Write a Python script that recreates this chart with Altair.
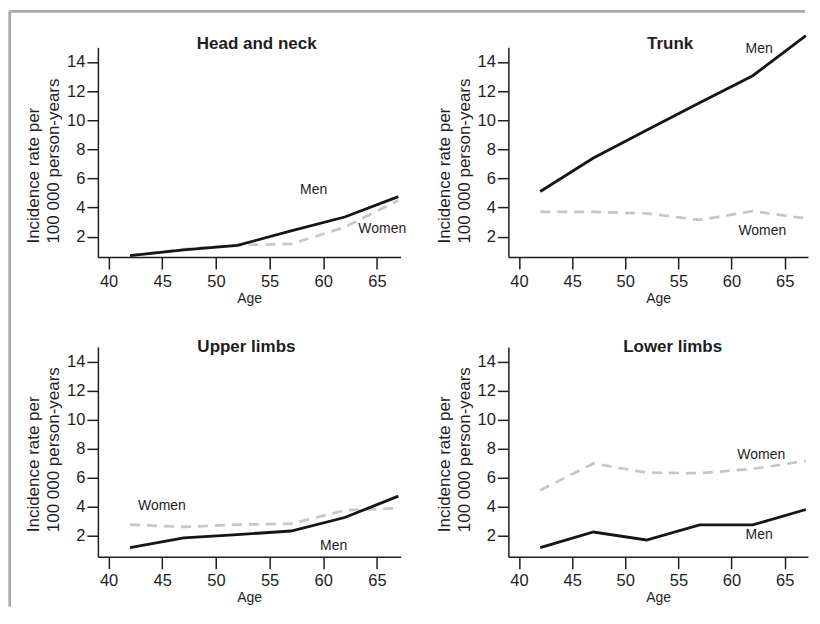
import altair as alt
import pandas as pd

FONT = "Liberation Sans"
INK = "#1e1e1e"

ages = [42, 47, 52, 57, 62, 67]
x_ticks = [40, 45, 50, 55, 60, 65]
y_ticks = [2, 4, 6, 8, 10, 12, 14]

titles = ["Head and neck", "Trunk", "Upper limbs", "Lower limbs"]

head_men = [0.7, 1.1, 1.4, 2.4, 3.35, 4.75]
head_women = [0.7, 1.15, 1.42, 1.5, 2.65, 4.5]
trunk_men = [5.1, 7.4, 9.3, 11.2, 13.05, 15.8]
trunk_women = [3.7, 3.7, 3.6, 3.15, 3.75, 3.25]
upper_men = [1.18, 1.84, 2.07, 2.32, 3.25, 4.72]
upper_women = [2.76, 2.6, 2.76, 2.82, 3.74, 3.9]
lower_men = [1.17, 2.25, 1.7, 2.74, 2.74, 3.8]
lower_women = [5.13, 6.97, 6.34, 6.3, 6.6, 7.15]

# inline label positions (age, rate)
label_text = ["Men", "Women"]
head_label_age = [59.1, 65.5]
head_label_rate = [5.2, 2.54]
trunk_label_age = [62.6, 62.9]
trunk_label_rate = [14.9, 2.42]
upper_label_age = [60.97, 44.97]
upper_label_rate = [1.31, 4.05]
lower_label_age = [62.6, 62.8]
lower_label_rate = [2.03, 7.58]

y_title = ["Incidence rate per", "100 000 person-years"]


def make_panel(title, men, women, lab_age, lab_rate, width, ydomain,
               title_x, title_y, ytitle_y, frame=False):
    df = pd.DataFrame({
        "Age": ages + ages,
        "Rate": men + women,
        "Sex": ["Men"] * len(ages) + ["Women"] * len(ages),
    })
    lab = pd.DataFrame({"Age": lab_age, "Rate": lab_rate, "txt": label_text})

    x = alt.X("Age:Q",
              scale=alt.Scale(domain=[39, 67.2], nice=False, zero=False),
              axis=alt.Axis(values=x_ticks, title="Age", tickSize=12,
                            labelPadding=4, labelFlush=False,
                            titleFontSize=14, titleBaseline="alphabetic",
                            titleY=45))
    y = alt.Y("Rate:Q",
              scale=alt.Scale(domain=ydomain, nice=False, zero=False),
              axis=alt.Axis(values=y_ticks, title=y_title, tickSize=11,
                            labelPadding=2, titleAngle=270, titleAlign="left",
                            titleBaseline="alphabetic", titleX=-59,
                            titleY=ytitle_y, titleFontSize=17,
                            titleLineHeight=20))

    base = alt.Chart(df)
    women_line = base.transform_filter(alt.datum.Sex == "Women").mark_line(
        color="#c6c6c6", strokeWidth=2.7, strokeDash=[10, 7]
    ).encode(x=x, y=y)
    men_line = base.transform_filter(alt.datum.Sex == "Men").mark_line(
        color="#151515", strokeWidth=2.8
    ).encode(x=x, y=y)
    labels = alt.Chart(lab).mark_text(
        font=FONT, fontSize=14, color=INK, align="center", baseline="middle"
    ).encode(x=x, y=y, text="txt:N")

    one = pd.DataFrame({"t": [title]})
    title_mark = alt.Chart(one).mark_text(
        font=FONT, fontSize=17, fontWeight="bold", color=INK,
        align="center", baseline="alphabetic"
    ).encode(x=alt.value(title_x), y=alt.value(title_y), text="t:N")

    layers = [women_line, men_line, labels, title_mark]
    if frame:
        top_rule = alt.Chart(one).mark_rule(color="#aaaaaa", strokeWidth=2.7).encode(
            x=alt.value(-88.3), x2=alt.value(708), y=alt.value(-36))
        left_rule = alt.Chart(one).mark_rule(color="#aaaaaa", strokeWidth=2.7).encode(
            x=alt.value(-88.3), y=alt.value(-36), y2=alt.value(560))
        layers = [top_rule, left_rule] + layers

    return alt.layer(*layers).properties(width=width, height=210)


p1 = make_panel(titles[0], head_men, head_women, head_label_age, head_label_rate,
                303, [0.6, 15], 159, 1.3, 196, frame=True)
p2 = make_panel(titles[1], trunk_men, trunk_women, trunk_label_age, trunk_label_rate,
                300, [0.6, 15], 162, 1.3, 196)
p3 = make_panel(titles[2], upper_men, upper_women, upper_label_age, upper_label_rate,
                303, [0.55, 15], 148.7, 5.3, 185)
p4 = make_panel(titles[3], lower_men, lower_women, lower_label_age, lower_label_rate,
                300, [0.55, 15], 164.5, 5, 185)

chart = alt.concat(
    p1, p2, p3, p4, columns=2, spacing={"row": 90, "column": 108}, bounds="flush"
).properties(
    padding={"left": 0, "top": 1, "right": 0, "bottom": 0}
).configure_view(
    strokeWidth=0
).configure_axis(
    grid=False, domainColor=INK, tickColor=INK, labelColor=INK, titleColor=INK,
    domainWidth=1.5, tickWidth=1.5, labelFont=FONT, titleFont=FONT,
    labelFontSize=16.5, titleFontWeight="normal", labelOverlap=False,
)

chart.save("out.html", embed_options={"renderer": "svg", "actions": False})
